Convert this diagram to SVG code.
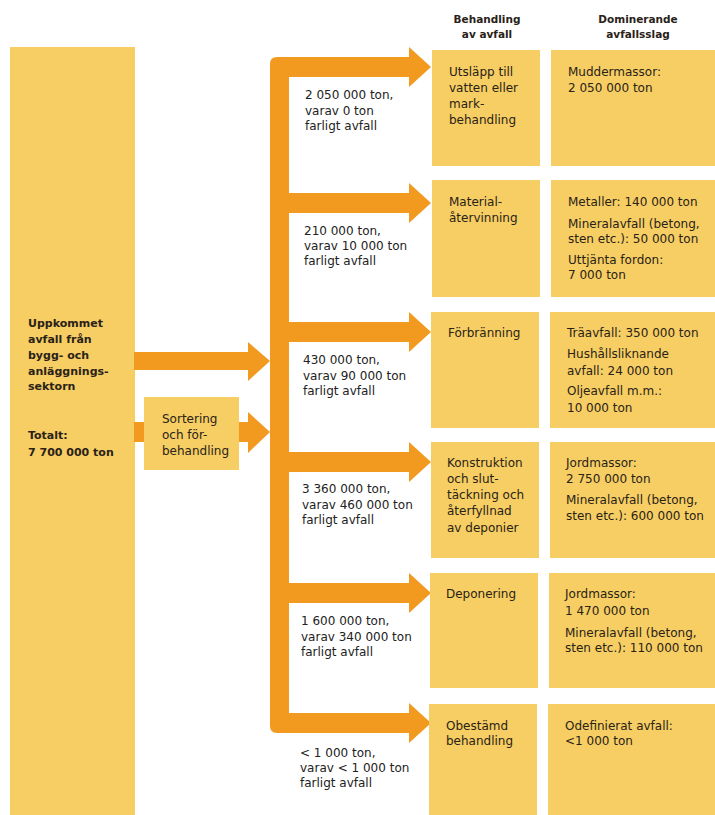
<svg xmlns="http://www.w3.org/2000/svg" width="715" height="815" viewBox="0 0 715 815">
<style>
.box{fill:#F6CE63}
.arr{fill:#F29A20}
text{font-family:"DejaVu Sans","Liberation Sans",sans-serif;font-size:12px;fill:#2a2218}
.b{font-weight:bold;font-size:11px}
.h{font-weight:bold;font-size:10.5px;text-anchor:middle}
.lbl{fill:#222}
</style>
<rect width="715" height="815" fill="#ffffff"/>
<g id="headers">
<text class="h" x="487" y="23">Behandling</text>
<text class="h" x="487" y="38">av avfall</text>
<text class="h" x="638" y="23">Dominerande</text>
<text class="h" x="638" y="38">avfallsslag</text>
</g>
<g id="source">
<rect class="box" x="10" y="47" width="125" height="768"/>
<text class="b" x="28" y="327">Uppkommet</text>
<text class="b" x="28" y="343">avfall från</text>
<text class="b" x="28" y="359">bygg- och</text>
<text class="b" x="28" y="375">anläggnings-</text>
<text class="b" x="28" y="390">sektorn</text>
<text class="b" x="28" y="439">Totalt:</text>
<text class="b" x="28" y="456">7 700 000 ton</text>
</g>
<g id="sortering">
<rect class="box" x="144" y="397" width="95" height="73"/>
<text x="162" y="423">Sortering</text>
<text x="162" y="439">och för-</text>
<text x="162" y="455">behandling</text>
</g>
<g id="connectors">
<polygon class="arr" points="134,352 248,352 248,342 270,361 248,381 248,370 134,370"/>
<rect class="arr" x="134" y="422" width="10" height="20"/>
<polygon class="arr" points="239,422 248,422 248,412 270,432 248,453 248,442 239,442"/>
<path class="arr" d="M270,64 Q270,57 277,57 L289,57 L289,733 L277,733 Q270,733 270,726 Z"/>
<polygon class="arr" points="285,57 409,57 409,47 431,67 409,87 409,77 285,77"/>
<polygon class="arr" points="285,193 409,193 409,183 431,203 409,223 409,213 285,213"/>
<polygon class="arr" points="285,322 409,322 409,312 431,332 409,352 409,342 285,342"/>
<polygon class="arr" points="285,452 409,452 409,442 431,462 409,482 409,472 285,472"/>
<polygon class="arr" points="285,583 409,583 409,573 431,593 409,613 409,603 285,603"/>
<polygon class="arr" points="285,713 409,713 409,703 431,723 409,743 409,733 285,733"/>
</g>
<g id="flow-labels">
<text class="lbl" x="305" y="99">2 050 000 ton,</text>
<text class="lbl" x="305" y="115">varav 0 ton</text>
<text class="lbl" x="305" y="130">farligt avfall</text>
<text class="lbl" x="304" y="235">210 000 ton,</text>
<text class="lbl" x="304" y="250">varav 10 000 ton</text>
<text class="lbl" x="304" y="265">farligt avfall</text>
<text class="lbl" x="303" y="364">430 000 ton,</text>
<text class="lbl" x="303" y="380">varav 90 000 ton</text>
<text class="lbl" x="303" y="395">farligt avfall</text>
<text class="lbl" x="302" y="493">3 360 000 ton,</text>
<text class="lbl" x="302" y="509">varav 460 000 ton</text>
<text class="lbl" x="302" y="524">farligt avfall</text>
<text class="lbl" x="301" y="625">1 600 000 ton,</text>
<text class="lbl" x="301" y="641">varav 340 000 ton</text>
<text class="lbl" x="301" y="656">farligt avfall</text>
<text class="lbl" x="300" y="757">&lt; 1 000 ton,</text>
<text class="lbl" x="300" y="772">varav &lt; 1 000 ton</text>
<text class="lbl" x="300" y="787">farligt avfall</text>
</g>
<g id="t1">
<rect class="box" x="432" y="50" width="108" height="116"/>
<text x="449" y="76">Utsläpp till</text>
<text x="449" y="92">vatten eller</text>
<text x="449" y="108">mark-</text>
<text x="449" y="124">behandling</text>
</g>
<g id="d1">
<rect class="box" x="551" y="50" width="164" height="116"/>
<text x="568" y="76">Muddermassor:</text>
<text x="568" y="92">2 050 000 ton</text>
</g>
<g id="t2">
<rect class="box" x="432" y="180" width="108" height="117"/>
<text x="449" y="206">Material-</text>
<text x="449" y="222">återvinning</text>
</g>
<g id="d2">
<rect class="box" x="551" y="180" width="164" height="117"/>
<text x="568" y="206">Metaller: 140 000 ton</text>
<text x="568" y="228">Mineralavfall (betong,</text>
<text x="568" y="243">sten etc.): 50 000 ton</text>
<text x="568" y="264">Uttjänta fordon:</text>
<text x="568" y="279">7 000 ton</text>
</g>
<g id="t3">
<rect class="box" x="431" y="312" width="108" height="116"/>
<text x="448" y="337">Förbränning</text>
</g>
<g id="d3">
<rect class="box" x="550" y="312" width="165" height="116"/>
<text x="567" y="337">Träavfall: 350 000 ton</text>
<text x="567" y="358">Hushållsliknande</text>
<text x="567" y="375">avfall: 24 000 ton</text>
<text x="567" y="395">Oljeavfall m.m.:</text>
<text x="567" y="412">10 000 ton</text>
</g>
<g id="t4">
<rect class="box" x="431" y="442" width="108" height="116"/>
<text x="447" y="467">Konstruktion</text>
<text x="447" y="483">och slut-</text>
<text x="447" y="499">täckning och</text>
<text x="447" y="515">återfyllnad</text>
<text x="447" y="532">av deponier</text>
</g>
<g id="d4">
<rect class="box" x="550" y="442" width="165" height="116"/>
<text x="566" y="467">Jordmassor:</text>
<text x="566" y="483">2 750 000 ton</text>
<text x="566" y="504">Mineralavfall (betong,</text>
<text x="566" y="520">sten etc.): 600 000 ton</text>
</g>
<g id="t5">
<rect class="box" x="430" y="573" width="108" height="115"/>
<text x="446" y="598">Deponering</text>
</g>
<g id="d5">
<rect class="box" x="549" y="573" width="166" height="115"/>
<text x="565" y="598">Jordmassor:</text>
<text x="565" y="615">1 470 000 ton</text>
<text x="565" y="637">Mineralavfall (betong,</text>
<text x="565" y="652">sten etc.): 110 000 ton</text>
</g>
<g id="t6">
<rect class="box" x="429" y="704" width="108" height="111"/>
<text x="446" y="730">Obestämd</text>
<text x="446" y="745">behandling</text>
</g>
<g id="d6">
<rect class="box" x="548" y="704" width="167" height="111"/>
<text x="565" y="730">Odefinierat avfall:</text>
<text x="565" y="745">&lt;1 000 ton</text>
</g>
</svg>
